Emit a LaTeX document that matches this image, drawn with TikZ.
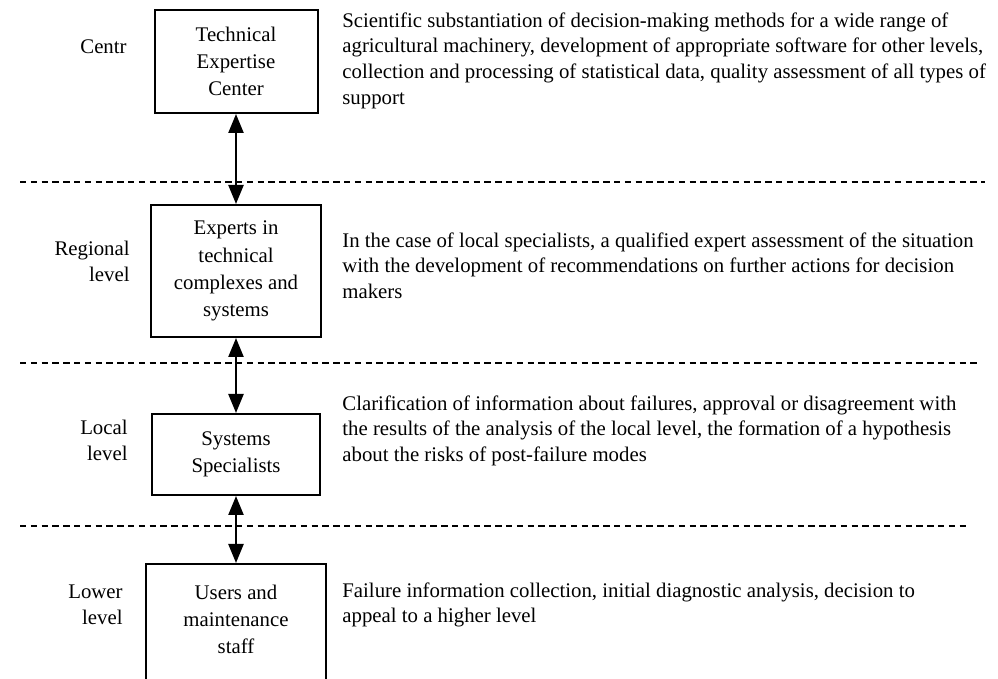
\documentclass[tikz,border=0pt]{standalone}
\usepackage{fontspec}
\setmainfont{Liberation Serif}
\usetikzlibrary{arrows.meta}
\begin{document}
\begin{tikzpicture}[
        x=0.5pt, y=-0.5pt,
        font=\fontsize{10.4}{12.9}\selectfont,
        blockn/.style={draw, line width=1pt, align=center, inner sep=0pt, font=\fontsize{10.4}{13.6}\selectfont},
        leveln/.style={align=right, anchor=east, inner sep=0pt, font=\fontsize{10.4}{13}\selectfont},
        descn/.style={align=left, anchor=north west, inner sep=0pt},
        sepline/.style={dash pattern=on 3.2pt off 2.2pt, line width=0.75pt},
        link/.style={{Triangle[length=9.5pt,width=7.5pt]}-{Triangle[length=9.5pt,width=7.5pt]}, line width=1.2pt},
    ]
    \clip (0,0) rectangle (998,679);
    \node[blockn, minimum width=81.5pt, minimum height=51.5pt](tec) at (236,61.5){Technical\\Expertise\\Center};
    \node[blockn, minimum width=85pt, minimum height=66pt](exp) at (236,271){Experts in\\technical\\complexes and\\systems};
    \node[blockn, minimum width=84pt, minimum height=40.5pt](spec) at (236,454.5){Systems\\Specialists};
    \node[blockn, minimum width=90pt, anchor=north, inner ysep=10.5pt, text depth=40pt](usr) at (236,563){Users and\\maintenance\\staff};

    \node[leveln](centr) at (127,47){Centr};
    \node[leveln](reg) at (130,261){Regional\\level};
    \node[leveln](loc) at (128,440){Local\\level};
    \node[leveln](low) at (123,605){Lower\\level};

    \node[descn](tecd) at (342,12){Scientific substantiation of decision-making methods for a wide range of\\agricultural machinery, development of appropriate software for other levels,\\collection and processing of statistical data, quality assessment of all types of\\support};
    \node[descn](expd) at (342,232){In the case of local specialists, a qualified expert assessment of the situation\\with the development of recommendations on further actions for decision\\makers};
    \node[descn](specd) at (342,395){Clarification of information about failures, approval or disagreement with\\the results of the analysis of the local level, the formation of a hypothesis\\about the risks of post-failure modes};
    \node[descn](usrd) at (342,582){Failure information collection, initial diagnostic analysis, decision to\\appeal to a higher level};

    \draw[sepline] (20,182) -- (985,182);
    \draw[sepline] (20,363) -- (980,363);
    \draw[sepline] (20,526) -- (968,526);

    \draw[link] (tec) -- (exp);
    \draw[link] (exp) -- (spec);
    \draw[link] (spec) -- (usr);
\end{tikzpicture}
\end{document}
